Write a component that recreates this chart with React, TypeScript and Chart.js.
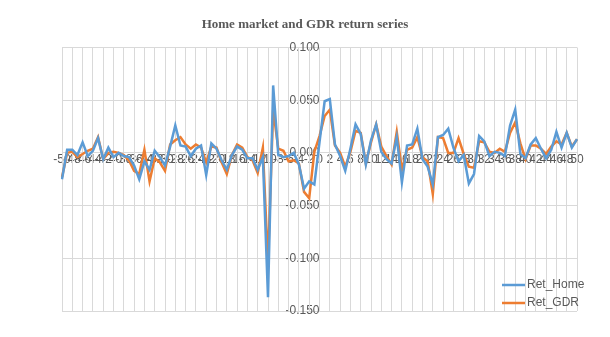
import React, { useEffect, useRef } from "react";
import { Chart, registerables } from "chart.js";

Chart.register(...registerables);

const TITLE = "Home market and GDR return series";

const categories = [
  "-50", "-49", "-48", "-47", "-46", "-45", "-44", "-43", "-42", "-41",
  "-40", "-39", "-38", "-37", "-36", "-35", "-34", "-33", "-32", "-31",
  "-30", "-29", "-28", "-27", "-26", "-25", "-24", "-23", "-22", "-21",
  "-20", "-19", "-18", "-17", "-16", "-15", "-14", "-13", "-12", "-11",
  "-10", "-9", "-8", "-7", "-6", "-5", "-4", "-3", "-2", "-1",
  "0", "1", "2", "3", "4", "5", "6", "7", "8", "9",
  "10", "11", "12", "13", "14", "15", "16", "17", "18", "19",
  "20", "21", "22", "23", "24", "25", "26", "27", "28", "29",
  "30", "31", "32", "33", "34", "35", "36", "37", "38", "39",
  "40", "41", "42", "43", "44", "45", "46", "47", "48", "49",
  "50",
];

const retHome = [
  -0.025, 0.003, 0.003, -0.002, 0.010, -0.003, 0.002, 0.014, -0.006, 0.005,
  -0.004, 0.000, -0.003, -0.004, -0.012, -0.025, -0.008, -0.016, 0.002, -0.004,
  -0.012, 0.006, 0.026, 0.007, 0.006, -0.003, 0.004, 0.007, -0.021, 0.009,
  0.004, -0.007, -0.016, -0.002, 0.006, 0.003, -0.005, -0.005, -0.016, -0.004,
  -0.137, 0.064, -0.002, -0.004, -0.003, 0.000, -0.011, -0.034, -0.027, -0.030,
  0.010, 0.049, 0.051, 0.008, -0.003, -0.017, 0.004, 0.027, 0.018, -0.011,
  0.012, 0.027, 0.001, -0.006, -0.010, 0.015, -0.028, 0.007, 0.008, 0.023,
  -0.006, -0.013, -0.030, 0.015, 0.017, 0.023, 0.005, -0.008, -0.002, -0.029,
  -0.020, 0.016, 0.011, -0.003, 0.001, 0.000, -0.003, 0.026, 0.041, -0.001,
  -0.005, 0.008, 0.014, 0.004, -0.005, 0.003, 0.020, 0.005, 0.019, 0.005,
  0.013,
];

const retGDR = [
  -0.023, 0.000, 0.001, -0.004, -0.001, 0.002, 0.004, 0.015, -0.006, 0.000,
  0.001, 0.000, -0.002, -0.007, -0.017, -0.020, 0.003, -0.027, -0.005, -0.009,
  -0.017, 0.008, 0.012, 0.015, 0.008, 0.004, 0.008, 0.005, -0.009, 0.006,
  0.005, -0.009, -0.020, -0.002, 0.008, 0.005, -0.004, -0.007, -0.019, 0.005,
  -0.105, 0.041, 0.004, 0.002, -0.008, -0.007, -0.010, -0.037, -0.043, 0.001,
  0.016, 0.035, 0.041, 0.007, 0.000, -0.013, 0.001, 0.021, 0.019, -0.010,
  0.010, 0.027, 0.006, -0.003, -0.011, 0.020, -0.016, 0.003, 0.005, 0.015,
  -0.004, -0.008, -0.039, 0.015, 0.014, 0.000, 0.000, 0.014, -0.001, -0.013,
  -0.014, 0.011, 0.010, 0.001, 0.000, 0.004, 0.001, 0.019, 0.029, 0.009,
  -0.006, 0.007, 0.007, 0.004, -0.001, 0.006, 0.011, 0.008, 0.019, 0.006,
  0.013,
];

const yTicks = [-0.15, -0.1, -0.05, 0, 0.05, 0.1];

const seriesNames = ["Ret_Home", "Ret_GDR"];
const seriesColors = ["#5B9BD5", "#ED7D31"];

const TEXT = "#595959";
const GRID = "#D9D9D9";
const FONT = '"Liberation Sans", Arial, sans-serif';

const titlePlugin = {
  id: "excelTitle",
  afterDraw(chart: any) {
    const ctx = chart.ctx;
    ctx.save();
    ctx.font = 'bold 13px "Liberation Serif", "DejaVu Serif", serif';
    ctx.fillStyle = TEXT;
    ctx.textAlign = "center";
    ctx.textBaseline = "middle";
    ctx.fillText(TITLE, chart.width / 2, 25);
    ctx.restore();
  },
};

// vertical category grid lines, every second category, placed by the x scale
const categoryGridPlugin = {
  id: "categoryGrid",
  beforeDatasetsDraw(chart: any) {
    const ctx = chart.ctx;
    const area = chart.chartArea;
    const xs = chart.scales.x;
    ctx.save();
    ctx.strokeStyle = GRID;
    ctx.lineWidth = 1;
    for (let i = 0; i < categories.length; i += 2) {
      const px = Math.round(xs.getPixelForValue(i) - 0.5) + 0.5;
      ctx.beginPath();
      ctx.moveTo(px, area.top);
      ctx.lineTo(px, area.bottom);
      ctx.stroke();
    }
    ctx.restore();
  },
};

const legendPlugin = {
  id: "excelLegend",
  afterDraw(chart: any) {
    const ctx = chart.ctx;
    const area = chart.chartArea;
    ctx.save();
    ctx.font = "12px " + FONT;
    ctx.textAlign = "left";
    ctx.textBaseline = "middle";
    chart.data.datasets.forEach((ds: any, i: number) => {
      const y = area.bottom - 26 + i * 18;
      const x0 = area.right - 75;
      ctx.strokeStyle = ds.borderColor;
      ctx.lineWidth = 2.5;
      ctx.beginPath();
      ctx.moveTo(x0, y);
      ctx.lineTo(x0 + 23, y);
      ctx.stroke();
      ctx.fillStyle = TEXT;
      ctx.fillText(ds.label, x0 + 25, y);
    });
    ctx.restore();
  },
};

const zeroW = (s: any) => {
  s.width = 0;
};
const zeroH = (s: any) => {
  s.height = 0;
};

export default function App() {
  const ref = useRef<HTMLCanvasElement | null>(null);

  useEffect(() => {
    if (!ref.current) return;
    const yMin = yTicks[0];
    const yMax = yTicks[yTicks.length - 1];
    const chart = new Chart(ref.current, {
      type: "line",
      data: {
        labels: categories,
        datasets: [
          {
            label: seriesNames[0],
            data: retHome,
            borderColor: seriesColors[0],
            backgroundColor: seriesColors[0],
            borderWidth: 2.5,
            pointRadius: 0,
            tension: 0,
          },
          {
            label: seriesNames[1],
            data: retGDR,
            borderColor: seriesColors[1],
            backgroundColor: seriesColors[1],
            borderWidth: 2.5,
            pointRadius: 0,
            tension: 0,
          },
        ],
      },
      options: {
        responsive: false,
        animation: false,
        layout: { padding: { left: 62, right: 33, top: 47.5, bottom: 26 } },
        plugins: {
          legend: { display: false },
          title: { display: false },
          tooltip: { enabled: false },
        },
        scales: {
          x: {
            type: "category",
            position: { y: 0 } as any,
            offset: false,
            afterFit: zeroH,
            grid: { display: false, drawTicks: false },
            border: { display: false },
            ticks: {
              autoSkip: false,
              maxRotation: 0,
              minRotation: 0,
              padding: 0,
              color: TEXT,
              font: { family: FONT, size: 12 },
              callback: (_v: any, index: number) =>
                index % 2 === 0 ? categories[index] : "",
            },
          },
          y: {
            type: "linear",
            position: { x: 50 } as any,
            min: yMin,
            max: yMax,
            afterFit: zeroW,
            grid: { color: GRID, lineWidth: 1, drawTicks: false },
            border: { display: false },
            ticks: {
              stepSize: 0.05,
              padding: 3,
              color: TEXT,
              font: { family: FONT, size: 12 },
              callback: (v: any) => Number(v).toFixed(3),
            },
          },
        },
      },
      plugins: [categoryGridPlugin, titlePlugin, legendPlugin],
    } as any);
    return () => chart.destroy();
  }, []);

  return (
    <div style={{ position: "fixed", left: 0, top: 0, width: 610, height: 337, background: "#fff" }}>
      <canvas ref={ref} width={610} height={337} style={{ display: "block", width: 610, height: 337 }} />
    </div>
  );
}
